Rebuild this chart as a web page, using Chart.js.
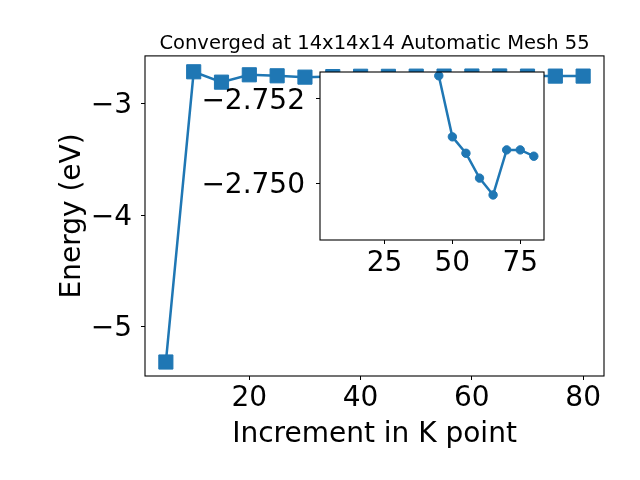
<!DOCTYPE html>
<html>
<head>
<meta charset="utf-8">
<script src="https://cdn.jsdelivr.net/npm/chart.js@4.4.0/dist/chart.umd.min.js"></script>
<style>
  html, body { margin: 0; padding: 0; background: #fff; }
  #wrap { position: relative; width: 640px; height: 480px; }
  #main { position: absolute; left: 0; top: 0; }
  #inset { position: absolute; left: 190px; top: 60px; }
</style>
</head>
<body>
<div id="wrap">
  <canvas id="main" width="640" height="480"></canvas>
  <canvas id="inset" width="370" height="230"></canvas>
</div>
<script>
// main series: total energy vs k-point increment
const kPoints = [5, 10, 15, 20, 25, 30, 35, 40, 45, 50, 55, 60, 65, 70, 75, 80];
const energy = [-5.315, -2.712, -2.805, -2.739, -2.748, -2.760, -2.755, -2.752,
                -2.7526, -2.7511, -2.7507, -2.7501, -2.7497, -2.7508, -2.7508, -2.7506];

// zoomed inset (converged region)
const insetK = [45, 50, 55, 60, 65, 70, 75, 80];
const insetEnergy = [-2.75255, -2.75110, -2.75071, -2.75012, -2.74972, -2.75079, -2.75079, -2.75064];

const mainXTicks = [20, 40, 60, 80];
const mainYTicks = [-5, -4, -3];
const insetXTicks = [25, 50, 75];
const insetYTicks = [-2.752, -2.750];

const titleText = "Converged at 14x14x14 Automatic Mesh 55";
const blue = "#1f77b4";

Chart.defaults.font.family = "'DejaVu Sans', sans-serif";
Chart.defaults.color = "#000";
Chart.defaults.animation = false;

const minus = (s) => s.replace("-", "\u2212");

function setTicks(list) {
  return (scale) => { scale.ticks = list.map(v => ({ value: v })); };
}

// fixed axis size, no extra label padding pushed into the layout
function fixSize(prop, px) {
  return (s) => {
    s[prop] = px;
    s.paddingTop = 0; s.paddingBottom = 0; s.paddingLeft = 0; s.paddingRight = 0;
  };
}

// matplotlib style box round the axes, and optional white face
const frame = {
  id: "frame",
  beforeDraw(chart, args, opts) {
    if (!opts.fill) return;
    const a = chart.chartArea;
    chart.ctx.save();
    chart.ctx.fillStyle = "#fff";
    chart.ctx.fillRect(a.left, a.top, a.right - a.left, a.bottom - a.top);
    chart.ctx.restore();
  },
  afterDraw(chart) {
    const a = chart.chartArea, ctx = chart.ctx;
    ctx.save();
    ctx.strokeStyle = "#000";
    ctx.lineWidth = 1.1;
    ctx.strokeRect(a.left, a.top, a.right - a.left, a.bottom - a.top);
    ctx.restore();
  }
};

function axis(min, max, ticks, fmt, extra) {
  return Object.assign({
    type: "linear",
    min: min,
    max: max,
    afterBuildTicks: setTicks(ticks),
    border: { display: false },
    grid: { drawOnChartArea: false, drawTicks: true, tickLength: 4, color: "#000", lineWidth: 1 },
    ticks: { font: { size: 28 }, color: "#000", callback: fmt, autoSkip: false, maxRotation: 0 }
  }, extra);
}

const mainOpts = {
  responsive: false,
  layout: { padding: { left: 0, top: 0, right: 36, bottom: 0 } },
  plugins: {
    legend: { display: false },
    tooltip: { enabled: false },
    title: {
      display: true,
      text: titleText,
      fullSize: false,
      font: { size: 19.5, weight: "normal" },
      color: "#000",
      padding: { top: 32.5, bottom: 0 }
    },
    frame: {}
  },
  scales: {
    x: axis(1.25, 83.75, mainXTicks, v => String(v), {
      afterFit: fixSize("height", 104),
      title: { display: true, text: "Increment in K point", font: { size: 28 }, color: "#000", padding: { top: 0, bottom: 28 } }
    }),
    y: axis(-5.4405, -2.5695, mainYTicks, v => minus(String(v)), {
      afterFit: fixSize("width", 145),
      title: { display: true, text: "Energy (eV)", font: { size: 28 }, color: "#000", padding: { top: 56, bottom: 0 } }
    })
  }
};
mainOpts.scales.x.ticks.padding = 2;
mainOpts.scales.y.ticks.padding = 9;
mainOpts.scales.y.ticks.labelOffset = 2;

new Chart(document.getElementById("main"), {
  type: "line",
  data: {
    datasets: [{
      data: kPoints.map((k, i) => ({ x: k, y: energy[i] })),
      borderColor: blue,
      backgroundColor: blue,
      borderWidth: 2.5,
      pointStyle: "rect",
      pointRadius: 10,
      pointBorderWidth: 1,
      tension: 0
    }]
  },
  options: mainOpts,
  plugins: [frame]
});

const insetOpts = {
  responsive: false,
  layout: { padding: { left: 0, top: 12, right: 16, bottom: 0 } },
  plugins: { legend: { display: false }, tooltip: { enabled: false }, frame: { fill: true } },
  scales: {
    x: axis(1.25, 83.75, insetXTicks, v => String(v), {
      afterFit: fixSize("height", 50)
    }),
    y: axis(-2.75264, -2.74865, insetYTicks, v => minus(v.toFixed(3)), {
      reverse: true,
      afterFit: fixSize("width", 130)
    })
  }
};
insetOpts.scales.x.ticks.padding = 3;
insetOpts.scales.y.ticks.padding = 11;
insetOpts.scales.y.ticks.labelOffset = 3;

new Chart(document.getElementById("inset"), {
  type: "line",
  data: {
    datasets: [{
      data: insetK.map((k, i) => ({ x: k, y: insetEnergy[i] })),
      borderColor: blue,
      backgroundColor: blue,
      borderWidth: 2.5,
      pointStyle: "circle",
      pointRadius: 4.2,
      pointBorderWidth: 1,
      tension: 0
    }]
  },
  options: insetOpts,
  plugins: [frame]
});
</script>
</body>
</html>
